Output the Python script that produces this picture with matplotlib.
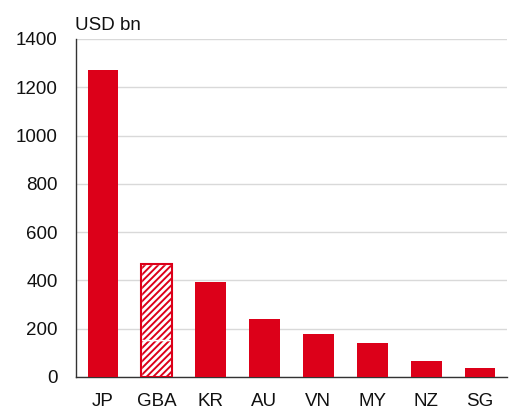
import matplotlib
matplotlib.use("Agg")
import matplotlib.pyplot as plt
import numpy as np

categories = ["JP", "GBA", "KR", "AU", "VN", "MY", "NZ", "SG"]
values = [1272, 0, 392, 241, 178, 140, 67, 36]
gba_lower = 152
gba_upper = 318

RED = "#DC0019"

plt.rcParams["font.family"] = ["Liberation Sans", "DejaVu Sans"]
plt.rcParams["hatch.linewidth"] = 2.0

fig = plt.figure(figsize=(5.2, 4.17), dpi=100)
ax = fig.add_axes([0.146, 0.096, 0.829, 0.8105])

x = np.arange(len(categories))
width = 0.57
solid = [v if c != "GBA" else 0 for c, v in zip(categories, values)]
ax.bar(x, solid, width=width, color=RED, zorder=3)

gi = categories.index("GBA")
ax.bar([gi], [gba_lower], width=width, facecolor=RED, edgecolor="white",
       hatch="/////", linewidth=1.0, zorder=3)
ax.bar([gi], [gba_upper], bottom=[gba_lower], width=width, facecolor=RED,
       edgecolor="white", hatch="/////", linewidth=1.0, zorder=3)
ax.bar([gi], [gba_lower + gba_upper], width=width, fill=False,
       edgecolor=RED, linewidth=1.5, zorder=4)

ax.set_xlim(-0.5, len(categories) - 0.5)
ax.set_ylim(0, 1400)
ax.set_yticks(np.arange(0, 1401, 200))
ax.set_xticks(x)
ax.set_xticklabels(categories)
ax.tick_params(axis="both", length=0, labelsize=13.5, colors="#111111")
ax.tick_params(axis="y", pad=13)
ax.tick_params(axis="x", pad=11.5)
ax.grid(axis="y", color="#D9D9D9", linewidth=1.0, zorder=0)
for s in ["top", "right"]:
    ax.spines[s].set_visible(False)
ax.spines["left"].set_color("#333333")
ax.spines["bottom"].set_color("#333333")
ax.spines["left"].set_linewidth(1.0)
ax.spines["bottom"].set_linewidth(1.0)

fig.text(0.144, 0.929, "USD bn", fontsize=13.5, ha="left", va="baseline", color="#111111")

fig.savefig("out.png", dpi=100)
